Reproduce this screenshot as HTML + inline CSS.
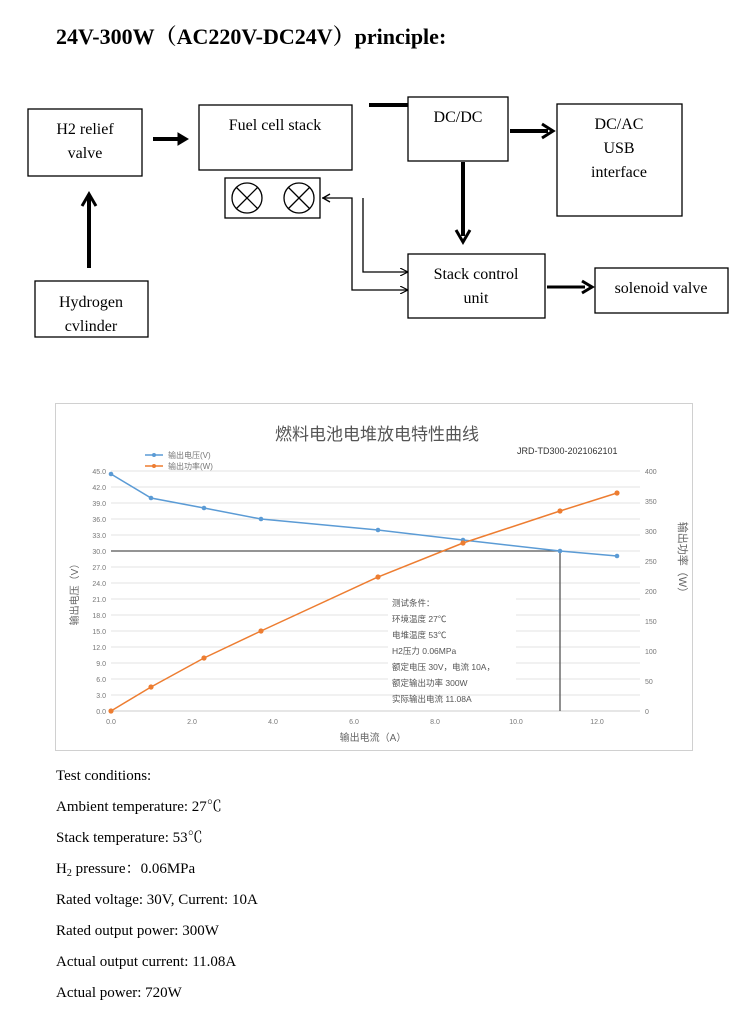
<!DOCTYPE html>
<html><head><meta charset="utf-8"><style>
body{margin:0;background:#fff;width:750px;height:1026px;overflow:hidden;font-family:"Liberation Serif","Noto Serif CJK SC",serif;}
.t{position:absolute;left:56px;font-size:15px;color:#000;line-height:18px;height:18px;}
.t sub{font-size:10px;line-height:0;vertical-align:-3px;}
</style></head><body>
<div style="position:absolute;left:56px;top:20px;font-size:22px;font-weight:bold;font-family:'Liberation Serif','Noto Serif CJK SC',serif;">24V-300W（AC220V-DC24V）principle:</div>
<svg width="750" height="360" style="position:absolute;left:0;top:0" font-family="Liberation Serif, serif" font-size="16">
<defs><marker id="a" markerWidth="8" markerHeight="8" refX="7" refY="4" orient="auto" markerUnits="userSpaceOnUse"><path d="M0,0 L8,4 L0,8" fill="none" stroke="#000" stroke-width="1.2"/></marker></defs>
<g fill="none" stroke="#000" stroke-width="1.3">
<rect x="28" y="109" width="114" height="67"/>
<rect x="199" y="105" width="153" height="65"/>
<rect x="225" y="178" width="95" height="40"/>
<circle cx="247" cy="198" r="15"/><circle cx="299" cy="198" r="15"/>
<path d="M236,187 L258,209 M258,187 L236,209 M288,187 L310,209 M310,187 L288,209"/>
<rect x="35" y="281" width="113" height="56"/>
<rect x="408" y="97" width="100" height="64"/>
<rect x="557" y="104" width="125" height="112"/>
<rect x="408" y="254" width="137" height="64"/>
<rect x="595" y="268" width="133" height="45"/>
<path d="M322,198 L352,198 L352,290 L407,290" marker-end="url(#a)"/>
<path d="M363,198 L363,272 L407,272" marker-end="url(#a)"/>
<path d="M323,198 L330,194 M323,198 L330,202"/>
</g>
<g stroke="#000" stroke-width="4" fill="none">
<path d="M89,268 L89,196"/><path d="M82,206 L89,194 L96,206" stroke-width="3"/>
<path d="M153,139 L182,139"/><path d="M178,133 L188,139 L178,145Z" fill="#000" stroke-width="1"/>
<path d="M369,105 L408,105"/>
<path d="M510,131 L548,131"/><path d="M542,124 L553,131 L542,138" stroke-width="3"/>
<path d="M463,162 L463,236"/><path d="M456,230 L463,242 L470,230" stroke-width="3"/>
<path d="M547,287 L585,287" stroke-width="3"/><path d="M582,281 L592,287 L582,293" stroke-width="3"/>
</g>
<g text-anchor="middle">
<text x="85" y="134">H2 relief</text><text x="85" y="158">valve</text>
<text x="275" y="130">Fuel cell stack</text>
<text x="458" y="122">DC/DC</text>
<text x="619" y="129">DC/AC</text><text x="619" y="153">USB</text><text x="619" y="177">interface</text>
<text x="476" y="279">Stack control</text><text x="476" y="303">unit</text>
<text x="661" y="293">solenoid valve</text>
<text x="91" y="307">Hydrogen</text><text x="91" y="331">cvlinder</text>
</g>
</svg>
<svg width="750" height="360" style="position:absolute;left:0;top:400px" font-family="Liberation Sans, Noto Sans CJK SC, sans-serif">
<g transform="translate(0,-400)">
<rect x="55.5" y="403.5" width="637" height="347" fill="#fff" stroke="#d0d0d0"/>
<text x="377" y="440" font-size="17" text-anchor="middle" fill="#555">燃料电池电堆放电特性曲线</text>
<text x="517" y="454" font-size="9" fill="#333">JRD-TD300-2021062101</text>
<line x1="145" y1="455" x2="163" y2="455" stroke="#5b9bd5" stroke-width="1.5"/><circle cx="154" cy="455" r="2" fill="#5b9bd5"/>
<text x="168" y="458" font-size="8" fill="#777">输出电压(V)</text>
<line x1="145" y1="466" x2="163" y2="466" stroke="#ed7d31" stroke-width="1.5"/><circle cx="154" cy="466" r="2" fill="#ed7d31"/>
<text x="168" y="469" font-size="8" fill="#777">输出功率(W)</text>
<g stroke="#e3e3e3" stroke-width="1">
<line x1="111" y1="471" x2="640" y2="471"/><line x1="111" y1="487" x2="640" y2="487"/><line x1="111" y1="503" x2="640" y2="503"/><line x1="111" y1="519" x2="640" y2="519"/><line x1="111" y1="535" x2="640" y2="535"/><line x1="111" y1="551" x2="640" y2="551"/><line x1="111" y1="567" x2="640" y2="567"/><line x1="111" y1="583" x2="640" y2="583"/><line x1="111" y1="599" x2="640" y2="599"/><line x1="111" y1="615" x2="640" y2="615"/><line x1="111" y1="631" x2="640" y2="631"/><line x1="111" y1="647" x2="640" y2="647"/><line x1="111" y1="663" x2="640" y2="663"/><line x1="111" y1="679" x2="640" y2="679"/><line x1="111" y1="695" x2="640" y2="695"/><line x1="111" y1="711" x2="640" y2="711" stroke="#ccc"/>
</g>
<g font-size="7" fill="#777" text-anchor="end">
<text x="106" y="474">45.0</text><text x="106" y="490">42.0</text><text x="106" y="506">39.0</text><text x="106" y="522">36.0</text><text x="106" y="538">33.0</text><text x="106" y="554">30.0</text><text x="106" y="570">27.0</text><text x="106" y="586">24.0</text><text x="106" y="602">21.0</text><text x="106" y="618">18.0</text><text x="106" y="634">15.0</text><text x="106" y="650">12.0</text><text x="106" y="666">9.0</text><text x="106" y="682">6.0</text><text x="106" y="698">3.0</text><text x="106" y="714">0.0</text>
</g>
<g font-size="7" fill="#777">
<text x="645" y="474">400</text><text x="645" y="504">350</text><text x="645" y="534">300</text><text x="645" y="564">250</text><text x="645" y="594">200</text><text x="645" y="624">150</text><text x="645" y="654">100</text><text x="645" y="684">50</text><text x="645" y="714">0</text>
</g>
<g font-size="7" fill="#777" text-anchor="middle">
<text x="111" y="724">0.0</text><text x="192" y="724">2.0</text><text x="273" y="724">4.0</text><text x="354" y="724">6.0</text><text x="435" y="724">8.0</text><text x="516" y="724">10.0</text><text x="597" y="724">12.0</text>
</g>
<text x="373" y="741" font-size="10" fill="#666" text-anchor="middle">输出电流（A）</text>
<text transform="translate(78,592) rotate(-90)" font-size="10" fill="#666" text-anchor="middle">输出电压（V）</text>
<text transform="translate(679,560) rotate(90)" font-size="11" fill="#666" text-anchor="middle">输出功率（W）</text>
<rect x="388" y="592" width="128" height="100" fill="#fff"/>
<g font-size="8.5" fill="#555">
<text x="392" y="606">测试条件：</text><text x="392" y="622">环境温度 27℃</text><text x="392" y="638">电堆温度 53℃</text><text x="392" y="654">H2压力 0.06MPa</text><text x="392" y="670">额定电压 30V，电流 10A，</text><text x="392" y="686">额定输出功率 300W</text><text x="392" y="702">实际输出电流 11.08A</text>
</g>
<path d="M111,551 L560,551 L560,711" fill="none" stroke="#555" stroke-width="1.3"/>
<polyline points="111,474 151,498 204,508 261,519 378,530 463,540 560,551 617,556" fill="none" stroke="#5b9bd5" stroke-width="1.5"/>
<g fill="#5b9bd5"><circle cx="111" cy="474" r="2.3"/><circle cx="151" cy="498" r="2.3"/><circle cx="204" cy="508" r="2.3"/><circle cx="261" cy="519" r="2.3"/><circle cx="378" cy="530" r="2.3"/><circle cx="463" cy="540" r="2.3"/><circle cx="560" cy="551" r="2.3"/><circle cx="617" cy="556" r="2.3"/></g>
<polyline points="111,711 151,687 204,658 261,631 378,577 463,543 560,511 617,493" fill="none" stroke="#ed7d31" stroke-width="1.5"/>
<g fill="#ed7d31"><circle cx="111" cy="711" r="2.6"/><circle cx="151" cy="687" r="2.6"/><circle cx="204" cy="658" r="2.6"/><circle cx="261" cy="631" r="2.6"/><circle cx="378" cy="577" r="2.6"/><circle cx="463" cy="543" r="2.6"/><circle cx="560" cy="511" r="2.6"/><circle cx="617" cy="493" r="2.6"/></g>
</g>
</svg>
<div class="t" style="top:767px">Test conditions:</div>
<div class="t" style="top:798px">Ambient temperature: 27℃</div>
<div class="t" style="top:829px">Stack temperature: 53℃</div>
<div class="t" style="top:860px">H<sub>2</sub> pressure：0.06MPa</div>
<div class="t" style="top:891px">Rated voltage: 30V, Current: 10A</div>
<div class="t" style="top:922px">Rated output power: 300W</div>
<div class="t" style="top:953px">Actual output current: 11.08A</div>
<div class="t" style="top:984px">Actual power: 720W</div>
</body></html>
